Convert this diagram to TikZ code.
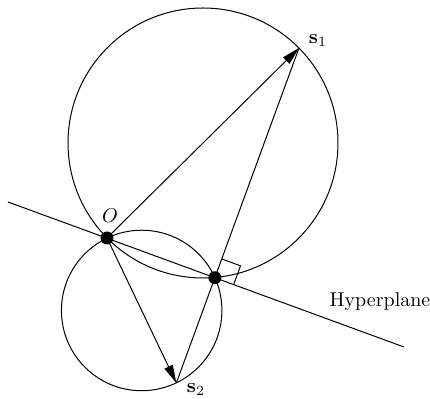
\documentclass[tikz,border=0pt]{standalone}
\usepackage{amsmath}
\usetikzlibrary{arrows.meta, calc}
\begin{document}
\begin{tikzpicture}[
    x=0.5pt, y=-0.5pt,
    line width=0.5pt,
    dot/.style={circle, fill, inner sep=0pt, minimum size=6.5pt},
    arr/.style={-{Triangle[length=9pt, width=4.5pt]}},
    lbl/.style={inner sep=0pt}
]
\useasboundingbox (0,0) rectangle (430,399);
% hyperplane and the two points
\coordinate (h1) at (8,202);
\coordinate (h2) at (404,347);
\coordinate (O) at (107,238);
\coordinate (s1) at (299,48);
\coordinate (P) at ($(h1)!(s1)!(h2)$);
\coordinate (s2) at ($(P)!-0.458!(s1)$);

% circles on diameters O-s1 and O-s2
\draw let \p1=($(s1)-(O)$), \n1={veclen(\x1,\y1)/2} in
    ($(O)!0.5!(s1)$) circle[radius=\n1];
\draw let \p1=($(s2)-(O)$), \n1={veclen(\x1,\y1)/2} in
    ($(O)!0.5!(s2)$) circle[radius=\n1];

\draw (h1) -- (h2);
\draw (s2) -- (s1);
\draw[arr] (O) -- (s1);
\draw[arr] (O) -- (s2);

% right angle mark
\coordinate (ra) at ($(P)!10pt!(h2)$);
\coordinate (rb) at ($(P)!10pt!(s1)$);
\draw (ra) -- ($(ra)+(rb)-(P)$) -- (rb);

\node[dot] (o) at (O) {};
\node[dot] (p) at (P) {};

\node[lbl] (lo) at (110,216) {$O$};
\node[lbl] (ls1) at (318,41) {$\mathbf{s}_1$};
\node[lbl] (ls2) at (196,390) {$\mathbf{s}_2$};
\node[lbl] (hyp) at (380,302) {Hyperplane};
\end{tikzpicture}
\end{document}
